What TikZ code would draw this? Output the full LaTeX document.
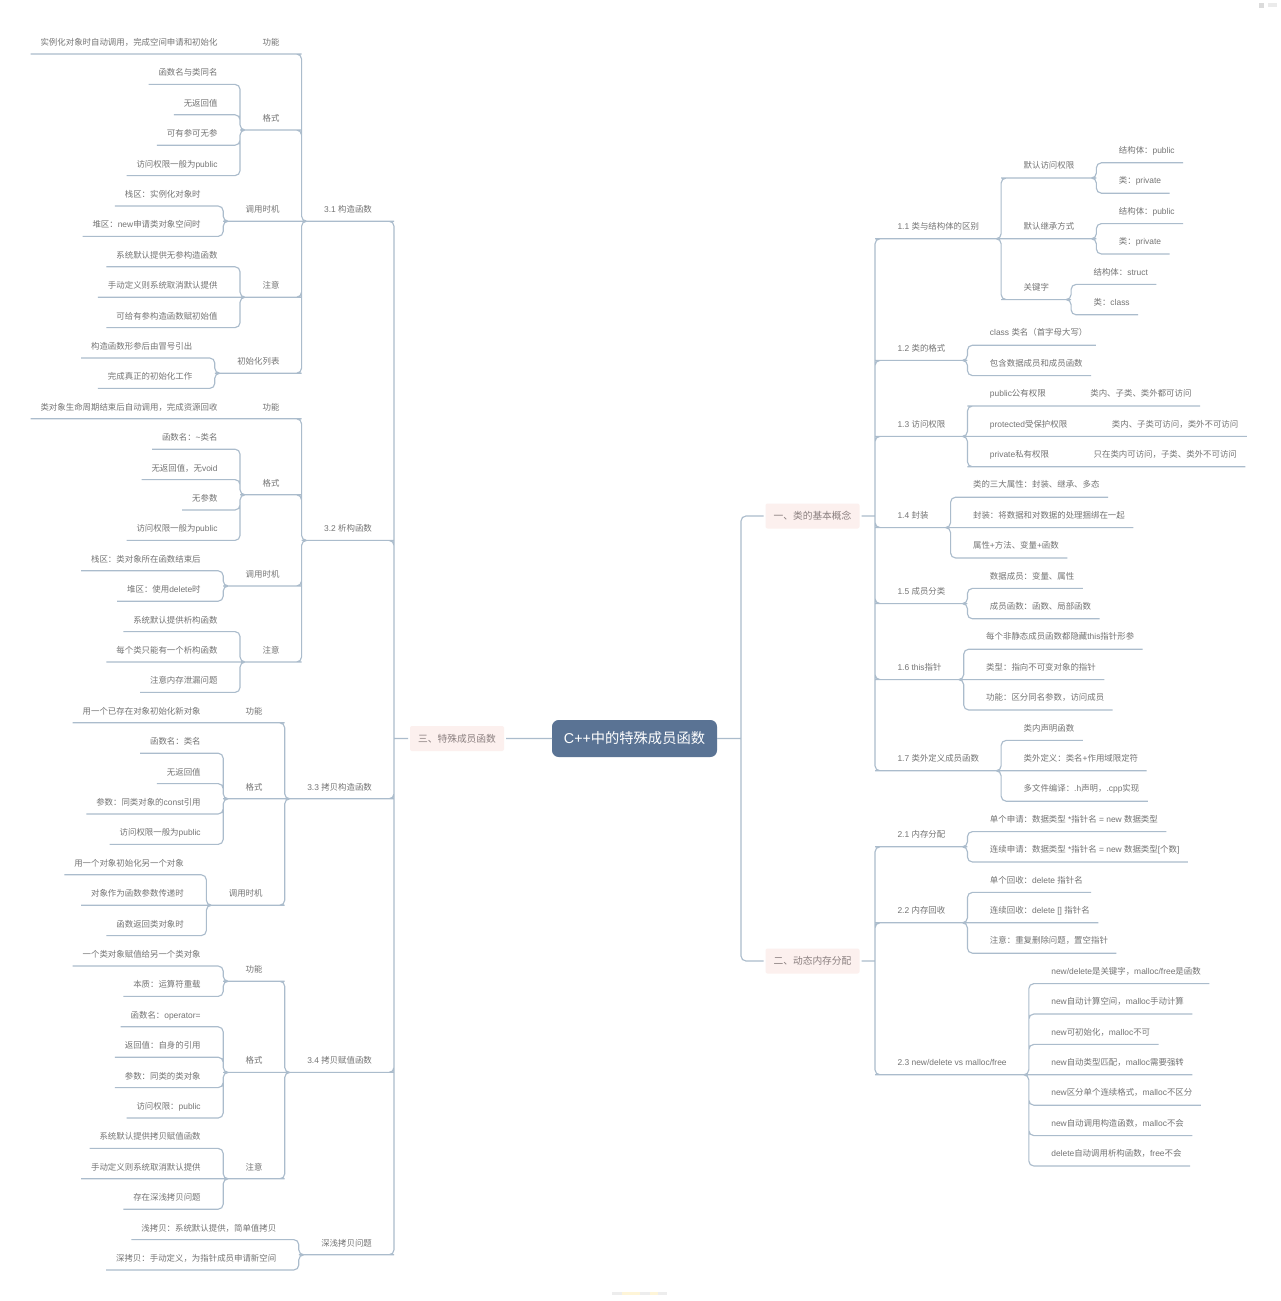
\documentclass[tikz,border=0pt]{standalone}
\usepackage{fontspec}
\setmainfont{Liberation Sans}
\newfontfamily\latinf{Liberation Sans}
\newfontfamily\cjk{Noto Sans CJK SC}
\newcount\cc
\def\setcls#1#2{\cc=#1 \loop\ifnum\cc<#2 \XeTeXcharclass\cc=7 \advance\cc by 1 \repeat}
\setcls{"3000}{"3040}
\setcls{"4E00}{"A000}
\setcls{"FF00}{"FFF0}
\XeTeXinterchartoks 0 7 = {\cjk}
\XeTeXinterchartoks 7 0 = {\latinf}
\XeTeXinterchartoks 4095 7 = {\cjk}
\XeTeXinterchartoks 7 4095 = {\latinf}
\XeTeXinterchartokenstate=1
\definecolor{linkc}{HTML}{ABBCCC}
\definecolor{txtc}{HTML}{747474}
\definecolor{rootc}{HTML}{5A7394}
\definecolor{branchc}{HTML}{FCF0EE}
\definecolor{branchtxt}{HTML}{8A7F7F}
\tikzset{
  link/.style={draw=linkc,line width=0.85pt,rounded corners=3.75pt},
  txt/.style={inner sep=0pt,outer sep=0pt,text=txtc,font=\fontsize{6.32pt}{8pt}\selectfont},
  rtxt/.style={txt,anchor=west,yshift=-0.6pt},
  ltxt/.style={txt,anchor=east},
  rootn/.style={fill=rootc,rounded corners=5pt,text=white,minimum width=123.75pt,minimum height=27.75pt,inner sep=0pt,outer sep=0pt,font=\fontsize{10.7pt}{12pt}\selectfont},
  branchn/.style={fill=branchc,rounded corners=1.5pt,text=branchtxt,minimum width=70.5pt,minimum height=18.75pt,inner sep=0pt,outer sep=1.5pt,font=\fontsize{7.3pt}{9pt}\selectfont},
  trunk/.style={inner sep=0pt,outer sep=0pt,minimum size=0pt}
}
\def\st{\rule[-6.4pt]{0pt}{18pt}}
\def\sr{\rule[-7pt]{0pt}{18pt}}
% right side: parent-type and leaf-type nodes
\newcommand\RP[4]{\node[rtxt] (#1) at (#2.east |- 0,#3) {\sr\hspace*{16.9pt}#4\hspace*{16.6pt}};}
\newcommand\RL[4]{\node[rtxt] (#1) at (#2.east |- 0,#3) {\sr\hspace*{16.9pt}#4\hspace*{6.4pt}};}
% left side
\newcommand\LP[4]{\node[ltxt] (#1) at (#2.west |- 0,#3) {\st\hspace*{16.9pt}#4\hspace*{16.6pt}};}
\newcommand\LL[4]{\node[ltxt] (#1) at (#2.west |- 0,#3) {\st\hspace*{7.5pt}#4\hspace*{16.9pt}};}
% connector pieces, all stroked as one path
\newcommand\CR[2]{(#1.south west) -- (#1.south east) |- (#2.south east)}
\newcommand\CL[2]{(#1.south east) -- (#1.south west) |- (#2.south west)}
\newcommand\SR[2]{(#1.south west) -- (#2.south east)}
\newcommand\SL[2]{(#1.south east) -- (#2.south west)}
\newcommand\TR[3]{(#1.east) -- (#2) |- (#3.south east)}
\newcommand\TL[3]{(#1.west) -- (#2) |- (#3.south west)}
\begin{document}
\begin{tikzpicture}[x=0.75pt,y=-0.75pt]
\useasboundingbox (0,0) rectangle (1280,1301);
\fill[white] (0,0) rectangle (1280,1301);
% central topic and main branches
\node[rootn] (root) at (634.5,738.5) {C++中的特殊成员函数};
\node[branchn] (b1) at (812.5,516) {一、类的基本概念};
\node[branchn] (b2) at (812.5,961) {二、动态内存分配};
\node[branchn] (b3) at (457,738.5) {三、特殊成员函数};
\node[trunk] (tr0) at (741,738.5) {};
\node[trunk] (trA) at (875,516) {};
\node[trunk] (trB) at (875,961) {};
\node[trunk] (trC) at (394,738.5) {};
% ---------- right: section 1
\RP{s11}{trA}{226}{1.1 类与结构体的区别}
\RP{s111}{s11}{165.2}{默认访问权限}
\RL{a1}{s111}{150}{结构体：public}
\RL{a2}{s111}{180.4}{类：private}
\RP{s112}{s11}{226}{默认继承方式}
\RL{a3}{s112}{210.8}{结构体：public}
\RL{a4}{s112}{241.2}{类：private}
\RP{s113}{s11}{286.8}{关键字}
\RL{a5}{s113}{271.6}{结构体：struct}
\RL{a6}{s113}{302}{类：class}
\RP{s12}{trA}{347.6}{1.2 类的格式}
\RL{a7}{s12}{332.4}{class 类名（首字母大写）}
\RL{a8}{s12}{362.8}{包含数据成员和成员函数}
\RP{s13}{trA}{423.6}{1.3 访问权限}
\RP{s131}{s13}{393.2}{public公有权限}
\RL{a9}{s131}{393.2}{类内、子类、类外都可访问}
\RP{s132}{s13}{423.6}{protected受保护权限}
\RL{a10}{s132}{423.6}{类内、子类可访问，类外不可访问}
\RP{s133}{s13}{454}{private私有权限}
\RL{a11}{s133}{454}{只在类内可访问，子类、类外不可访问}
\RP{s14}{trA}{514.8}{1.4 封装}
\RL{a12}{s14}{484.4}{类的三大属性：封装、继承、多态}
\RL{a13}{s14}{514.8}{封装：将数据和对数据的处理捆绑在一起}
\RL{a14}{s14}{545.2}{属性+方法、变量+函数}
\RP{s15}{trA}{590.8}{1.5 成员分类}
\RL{a15}{s15}{575.6}{数据成员：变量、属性}
\RL{a16}{s15}{606}{成员函数：函数、局部函数}
\RP{s16}{trA}{666.8}{1.6 this指针}
\RL{a17}{s16}{636.4}{每个非静态成员函数都隐藏this指针形参}
\RL{a18}{s16}{666.8}{类型：指向不可变对象的指针}
\RL{a19}{s16}{697.2}{功能：区分同名参数，访问成员}
\RP{s17}{trA}{758}{1.7 类外定义成员函数}
\RL{a20}{s17}{727.6}{类内声明函数}
\RL{a21}{s17}{758}{类外定义：类名+作用域限定符}
\RL{a22}{s17}{788.4}{多文件编译：.h声明，.cpp实现}
% ---------- right: section 2
\RP{s21}{trB}{834}{2.1 内存分配}
\RL{c1}{s21}{818.8}{单个申请：数据类型 *指针名 = new 数据类型}
\RL{c2}{s21}{849.2}{连续申请：数据类型 *指针名 = new 数据类型[个数]}
\RP{s22}{trB}{910}{2.2 内存回收}
\RL{c3}{s22}{879.6}{单个回收：delete 指针名}
\RL{c4}{s22}{910}{连续回收：delete [] 指针名}
\RL{c5}{s22}{940.4}{注意：重复删除问题，置空指针}
\RP{s23}{trB}{1062}{2.3 new/delete vs malloc/free}
\RL{c6}{s23}{970.8}{new/delete是关键字，malloc/free是函数}
\RL{c7}{s23}{1001.2}{new自动计算空间，malloc手动计算}
\RL{c8}{s23}{1031.6}{new可初始化，malloc不可}
\RL{c9}{s23}{1062}{new自动类型匹配，malloc需要强转}
\RL{c10}{s23}{1092.4}{new区分单个连续格式，malloc不区分}
\RL{c11}{s23}{1122.8}{new自动调用构造函数，malloc不会}
\RL{c12}{s23}{1153.2}{delete自动调用析构函数，free不会}
% ---------- left: section 3
\LP{s31}{trC}{209.2}{3.1 构造函数}
\LP{d1}{s31}{42}{功能}
\LL{e1}{d1}{42}{实例化对象时自动调用，完成空间申请和初始化}
\LP{d2}{s31}{118}{格式}
\LL{e2}{d2}{72.4}{函数名与类同名}
\LL{e3}{d2}{102.8}{无返回值}
\LL{e4}{d2}{133.2}{可有参可无参}
\LL{e5}{d2}{163.6}{访问权限一般为public}
\LP{d3}{s31}{209.2}{调用时机}
\LL{e6}{d3}{194}{栈区：实例化对象时}
\LL{e7}{d3}{224.4}{堆区：new申请类对象空间时}
\LP{d4}{s31}{285.2}{注意}
\LL{e8}{d4}{254.8}{系统默认提供无参构造函数}
\LL{e9}{d4}{285.2}{手动定义则系统取消默认提供}
\LL{e10}{d4}{315.6}{可给有参构造函数赋初始值}
\LP{d5}{s31}{361.2}{初始化列表}
\LL{e11}{d5}{346}{构造函数形参后由冒号引出}
\LL{e12}{d5}{376.4}{完成真正的初始化工作}
\LP{s32}{trC}{528.4}{3.2 析构函数}
\LP{f1}{s32}{406.8}{功能}
\LL{g1}{f1}{406.8}{类对象生命周期结束后自动调用，完成资源回收}
\LP{f2}{s32}{482.8}{格式}
\LL{g2}{f2}{437.2}{函数名：\textasciitilde 类名}
\LL{g3}{f2}{467.6}{无返回值，无void}
\LL{g4}{f2}{498}{无参数}
\LL{g5}{f2}{528.4}{访问权限一般为public}
\LP{f3}{s32}{574}{调用时机}
\LL{g6}{f3}{558.8}{栈区：类对象所在函数结束后}
\LL{g7}{f3}{589.2}{堆区：使用delete时}
\LP{f4}{s32}{650}{注意}
\LL{g8}{f4}{619.6}{系统默认提供析构函数}
\LL{g9}{f4}{650}{每个类只能有一个析构函数}
\LL{g10}{f4}{680.4}{注意内存泄漏问题}
\LP{s33}{trC}{786.8}{3.3 拷贝构造函数}
\LP{h1}{s33}{710.8}{功能}
\LL{i1}{h1}{710.8}{用一个已存在对象初始化新对象}
\LP{h2}{s33}{786.8}{格式}
\LL{i2}{h2}{741.2}{函数名：类名}
\LL{i3}{h2}{771.6}{无返回值}
\LL{i4}{h2}{802}{参数：同类对象的const引用}
\LL{i5}{h2}{832.4}{访问权限一般为public}
\LP{h3}{s33}{893.2}{调用时机}
\LL{i6}{h3}{862.8}{用一个对象初始化另一个对象}
\LL{i7}{h3}{893.2}{对象作为函数参数传递时}
\LL{i8}{h3}{923.6}{函数返回类对象时}
\LP{s34}{trC}{1060.4}{3.4 拷贝赋值函数}
\LP{j1}{s34}{969.2}{功能}
\LL{k1}{j1}{954}{一个类对象赋值给另一个类对象}
\LL{k2}{j1}{984.4}{本质：运算符重载}
\LP{j2}{s34}{1060.4}{格式}
\LL{k3}{j2}{1014.8}{函数名：operator=}
\LL{k4}{j2}{1045.2}{返回值：自身的引用}
\LL{k5}{j2}{1075.6}{参数：同类的类对象}
\LL{k6}{j2}{1106}{访问权限：public}
\LP{j3}{s34}{1166.8}{注意}
\LL{k7}{j3}{1136.4}{系统默认提供拷贝赋值函数}
\LL{k8}{j3}{1166.8}{手动定义则系统取消默认提供}
\LL{k9}{j3}{1197.2}{存在深浅拷贝问题}
\LP{s35}{trC}{1242.8}{深浅拷贝问题}
\LL{k10}{s35}{1227.6}{浅拷贝：系统默认提供，简单值拷贝}
\LL{k11}{s35}{1258}{深拷贝：手动定义，为指针成员申请新空间}
% ---------- all connectors as a single stroked path
\draw[link]
  (root.east) -- (tr0) |- (b1.west)
  (root.east) -- (tr0) |- (b2.west)
  (root.west) -- (b3.east)
  \TR{b1}{trA}{s11} \TR{b1}{trA}{s12} \TR{b1}{trA}{s13} \TR{b1}{trA}{s14}
  \TR{b1}{trA}{s15} \TR{b1}{trA}{s16} \TR{b1}{trA}{s17}
  \TR{b2}{trB}{s21} \TR{b2}{trB}{s22} \TR{b2}{trB}{s23}
  \TL{b3}{trC}{s31} \TL{b3}{trC}{s32} \TL{b3}{trC}{s33} \TL{b3}{trC}{s34} \TL{b3}{trC}{s35}
  \CR{s11}{s111} \SR{s11}{s112} \CR{s11}{s113}
  \CR{s111}{a1} \CR{s111}{a2} \CR{s112}{a3} \CR{s112}{a4} \CR{s113}{a5} \CR{s113}{a6}
  \CR{s12}{a7} \CR{s12}{a8}
  \CR{s13}{s131} \SR{s13}{s132} \CR{s13}{s133}
  \SR{s131}{a9} \SR{s132}{a10} \SR{s133}{a11}
  \CR{s14}{a12} \SR{s14}{a13} \CR{s14}{a14}
  \CR{s15}{a15} \CR{s15}{a16}
  \CR{s16}{a17} \SR{s16}{a18} \CR{s16}{a19}
  \CR{s17}{a20} \SR{s17}{a21} \CR{s17}{a22}
  \CR{s21}{c1} \CR{s21}{c2}
  \CR{s22}{c3} \SR{s22}{c4} \CR{s22}{c5}
  \CR{s23}{c6} \CR{s23}{c7} \CR{s23}{c8} \SR{s23}{c9} \CR{s23}{c10} \CR{s23}{c11} \CR{s23}{c12}
  \CL{s31}{d1} \CL{s31}{d2} \SL{s31}{d3} \CL{s31}{d4} \CL{s31}{d5}
  \SL{d1}{e1}
  \CL{d2}{e2} \CL{d2}{e3} \CL{d2}{e4} \CL{d2}{e5}
  \CL{d3}{e6} \CL{d3}{e7}
  \CL{d4}{e8} \SL{d4}{e9} \CL{d4}{e10}
  \CL{d5}{e11} \CL{d5}{e12}
  \CL{s32}{f1} \CL{s32}{f2} \CL{s32}{f3} \CL{s32}{f4}
  \SL{f1}{g1}
  \CL{f2}{g2} \CL{f2}{g3} \CL{f2}{g4} \CL{f2}{g5}
  \CL{f3}{g6} \CL{f3}{g7}
  \CL{f4}{g8} \SL{f4}{g9} \CL{f4}{g10}
  \CL{s33}{h1} \SL{s33}{h2} \CL{s33}{h3}
  \SL{h1}{i1}
  \CL{h2}{i2} \CL{h2}{i3} \CL{h2}{i4} \CL{h2}{i5}
  \CL{h3}{i6} \SL{h3}{i7} \CL{h3}{i8}
  \CL{s34}{j1} \SL{s34}{j2} \CL{s34}{j3}
  \CL{j1}{k1} \CL{j1}{k2}
  \CL{j2}{k3} \CL{j2}{k4} \CL{j2}{k5} \CL{j2}{k6}
  \CL{j3}{k7} \SL{j3}{k8} \CL{j3}{k9}
  \CL{s35}{k10} \CL{s35}{k11};
% faint marks at the page edges
\fill[black!14] (1259,3) rectangle (1264,8);
\fill[black!8] (1268,3.5) rectangle (1277,7.5);
\fill[black!7] (612,1292) rectangle (622,1294.5);
\fill[yellow!55!orange!14] (622,1292) rectangle (640,1294.5);
\fill[black!7] (640,1292) rectangle (650,1294.5);
\fill[yellow!55!orange!14] (650,1292) rectangle (658,1294.5);
\fill[black!7] (658,1292) rectangle (667,1294.5);
\end{tikzpicture}
\end{document}
